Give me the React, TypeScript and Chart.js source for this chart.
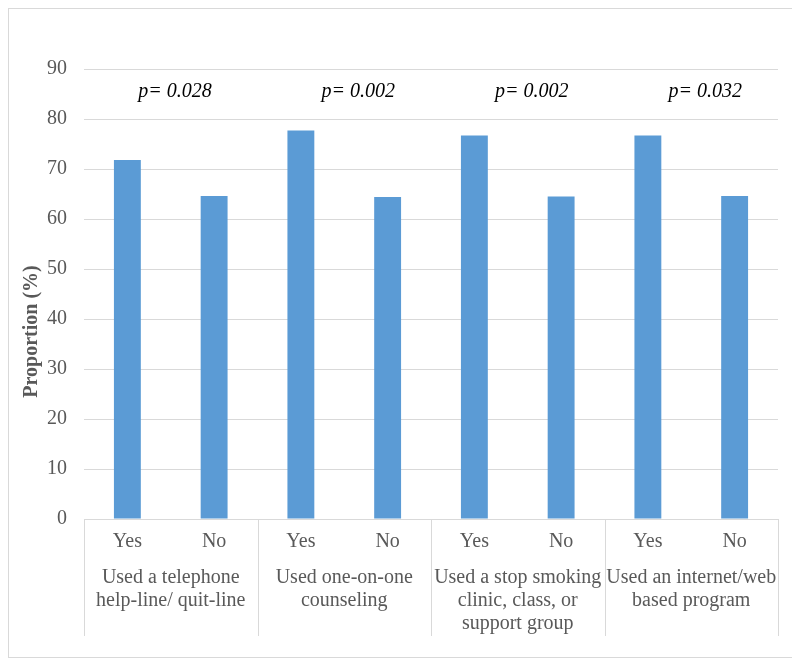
import React, { useEffect, useRef } from "react";
import { Chart, registerables } from "chart.js";

Chart.register(...registerables);

const answers = ["Yes", "No", "Yes", "No", "Yes", "No", "Yes", "No"];
const proportions = [71.8, 64.6, 77.7, 64.4, 76.7, 64.5, 76.7, 64.6];
const groupLabels = [
  ["Used a telephone", "help-line/ quit-line"],
  ["Used one-on-one", "counseling"],
  ["Used a stop smoking", "clinic, class, or", "support group"],
  ["Used an internet/web", "based program"],
];
const pValues = ["p= 0.028", "p= 0.002", "p= 0.002", "p= 0.032"];
const pValuePositions = [0.55, 2.66, 4.66, 6.66];
const pValueLevel = 85.5;
const yTicks = [0, 10, 20, 30, 40, 50, 60, 70, 80, 90];
const yTitle = "Proportion (%)";
const yTitleLevel = 37.5;

const FONT = "'Liberation Serif', 'Times New Roman', serif";
const GRID = "#d9d9d9";
const TEXT = "#595959";

const groupPlugin = {
  id: "groupPlugin",
  afterDraw(chart: any) {
    const { ctx, scales } = chart;
    const x = scales.x;
    const y = scales.y;
    const bottom = chart.chartArea.bottom;
    const step = (x.right - x.left) / answers.length;
    ctx.save();
    // separators
    ctx.strokeStyle = GRID;
    ctx.lineWidth = 1;
    for (let g = 0; g <= groupLabels.length; g++) {
      const px = Math.round(x.left + g * 2 * step) + 0.5;
      ctx.beginPath();
      ctx.moveTo(px, bottom);
      ctx.lineTo(px, bottom + 117);
      ctx.stroke();
    }
    // group labels
    ctx.fillStyle = TEXT;
    ctx.font = `20px ${FONT}`;
    ctx.textAlign = "center";
    ctx.textBaseline = "middle";
    groupLabels.forEach((lines, g) => {
      const cx = x.left + (g * 2 + 1) * step;
      lines.forEach((line, i) => {
        ctx.fillText(line, cx, bottom + 59 + i * 23);
      });
    });
    // p-values
    ctx.fillStyle = "#000000";
    ctx.font = `italic 20px ${FONT}`;
    pValues.forEach((t, i) => {
      const px = x.getPixelForValue(pValuePositions[i]);
      const py = y.getPixelForValue(pValueLevel);
      ctx.fillText(t, px, py);
    });
    // y title
    ctx.fillStyle = TEXT;
    ctx.font = `bold 20px ${FONT}`;
    ctx.translate(23, y.getPixelForValue(yTitleLevel));
    ctx.rotate(-Math.PI / 2);
    ctx.fillText(yTitle, 0, 0);
    ctx.restore();
  },
};

export default function App() {
  const ref = useRef<HTMLCanvasElement>(null);
  useEffect(() => {
    if (!ref.current) return;
    const chart = new Chart(ref.current, {
      type: "bar",
      data: {
        labels: answers,
        datasets: [
          {
            data: proportions,
            backgroundColor: "#5B9BD5",
            categoryPercentage: 1,
            barPercentage: 0.31,
          },
        ],
      },
      options: {
        animation: false,
        responsive: false,
        layout: { padding: { left: 0, right: 14, top: 60, bottom: 0 } },
        plugins: { legend: { display: false }, tooltip: { enabled: false } },
        scales: {
          x: {
            grid: { display: false },
            border: { display: false },
            ticks: {
              color: TEXT,
              font: { family: FONT, size: 20 },
              padding: 3,
              maxRotation: 0,
            },
            afterFit: (s: any) => {
              s.height = 138;
            },
          },
          y: {
            min: 0,
            max: 90,
            afterBuildTicks: (s: any) => {
              s.ticks = yTicks.map((v) => ({ value: v }));
            },
            grid: { color: GRID, drawTicks: false },
            border: { display: false },
            ticks: {
              color: TEXT,
              font: { family: FONT, size: 20 },
              padding: 17,
            },
            afterFit: (s: any) => {
              s.width = 75;
            },
          },
        },
      },
      plugins: [groupPlugin],
    });
    return () => chart.destroy();
  }, []);
  return (
    <div
      style={{
        width: 785,
        height: 650,
        border: "1px solid #d9d9d9",
        boxSizing: "border-box",
        background: "#fff",
      }}
    >
      <canvas ref={ref} width={783} height={648} style={{ display: "block" }} />
    </div>
  );
}
